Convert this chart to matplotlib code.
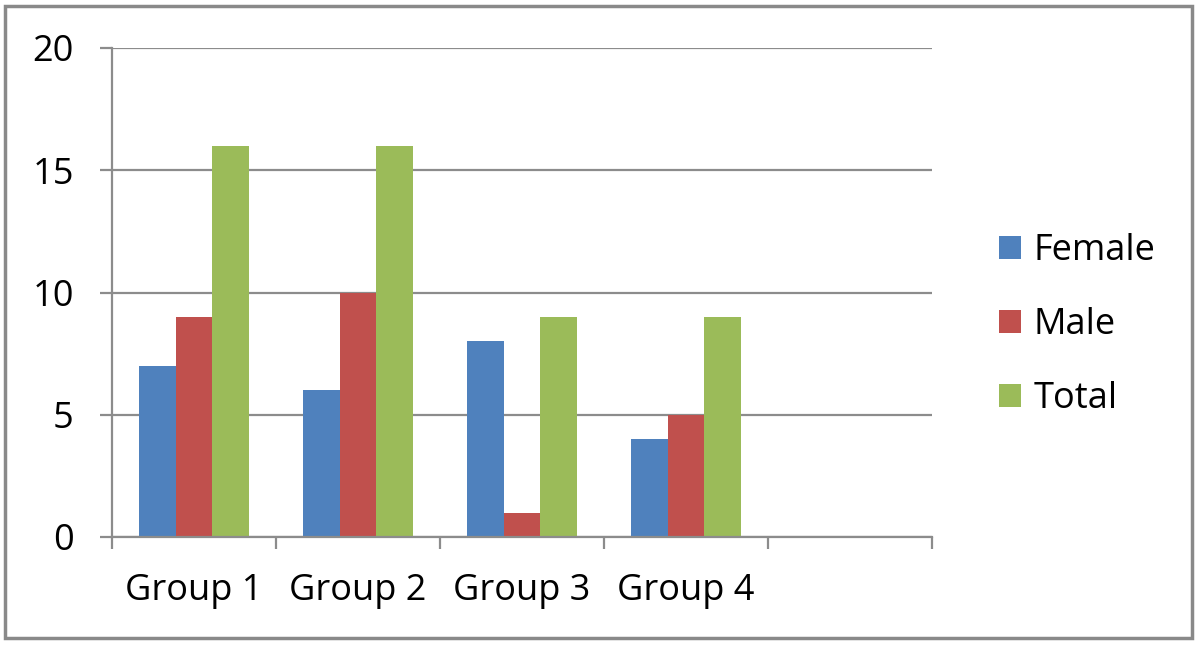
import matplotlib
matplotlib.use("Agg")
import matplotlib.pyplot as plt
from matplotlib.patches import Rectangle
import numpy as np

plt.rcParams['font.family'] = ['Open Sans', 'DejaVu Sans']

categories = ["Group 1", "Group 2", "Group 3", "Group 4"]
series_names = ["Female", "Male", "Total"]
female = [7, 6, 8, 4]
male = [9, 10, 1, 5]
total = [16, 16, 9, 9]
yticks = [0, 5, 10, 15, 20]
colors = ["#4F81BD", "#C0504D", "#9BBB59"]
grey = "#8C8C8C"

fig = plt.figure(figsize=(12, 6.45), dpi=100)
ax = fig.add_axes([112/1200, 1-537/645, 820/1200, 489/645])

n_slots = 5
x = np.arange(len(categories)) + 0.5
w = 0.222
for i, (vals, name) in enumerate(zip([female, male, total], series_names)):
    ax.bar(x + (i-1)*w, vals, width=w, color=colors[i], label=name, zorder=3)

fs = 26
ax.set_xlim(0, n_slots)
ax.set_ylim(0, 20)
ax.set_yticks(yticks)
ax.set_yticklabels([str(v) for v in yticks])
ax.set_xticks(np.arange(n_slots + 1))
ax.set_xticklabels([])
ax.set_xticks(x, minor=True)
ax.set_xticklabels(categories, minor=True)
ax.tick_params(axis='x', which='minor', length=0, pad=26, labelsize=fs)
ax.tick_params(axis='x', which='major', length=8.5, width=1.6, color=grey, direction='out')
ax.tick_params(axis='y', length=8.5, width=1.6, color=grey, pad=19, labelsize=fs)
ax.grid(axis='y', color=grey, linewidth=1.6, zorder=0)
for s in ['top', 'right']:
    ax.spines[s].set_visible(False)
for s in ['left', 'bottom']:
    ax.spines[s].set_color(grey)
    ax.spines[s].set_linewidth(1.6)
ax.spines['bottom'].set_zorder(4)

leg = fig.legend(loc='center left', bbox_to_anchor=(985/1200, 1-325/645), frameon=False,
                 fontsize=fs, handlelength=0.6, handleheight=0.6, handletextpad=0.35,
                 labelspacing=1.05, borderaxespad=0)

fig.patches.append(Rectangle((5/1200, 7/645), 1187/1200, 632/645, transform=fig.transFigure,
                             fill=False, edgecolor='#898989', linewidth=2.5))

fig.savefig("out.png", dpi=100)
